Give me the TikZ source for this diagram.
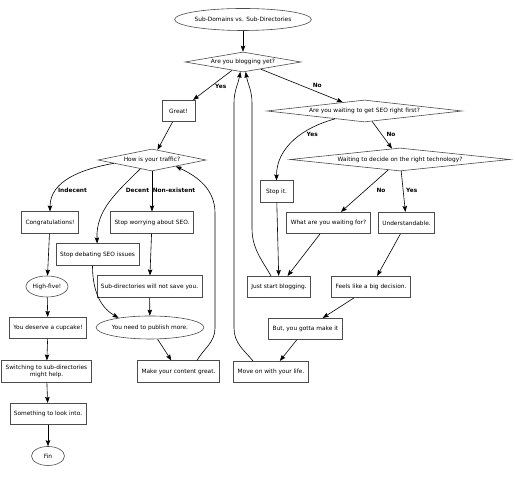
\documentclass[tikz,border=0pt]{standalone}
\usepackage{fontspec}
\setmainfont{DejaVu Sans}
\usetikzlibrary{positioning, arrows.meta, shapes.geometric}
\newcommand{\gvfont}{\fontsize{5.85}{6.3}\selectfont}
\tikzstyle{sbox} = [rectangle, draw=black!70, line width=0.6pt, 
minimum height=21.5pt, minimum width=33pt, inner xsep=4pt, inner ysep=1pt, align=center]
\tikzstyle{query} = [diamond, draw=black!70, line width=0.6pt, aspect=8, inner sep=0pt]
\tikzstyle{oval} = [ellipse, draw=black!70, line width=0.6pt, inner sep=0pt]
\tikzstyle{answer} = [font=\gvfont\bfseries, inner sep=0pt]
\tikzstyle{arrow} = [line width=0.6pt, -{Stealth[length=6pt,width=4.5pt,inset=1pt]}]

\begin{document}
\begin{tikzpicture}[x=1pt, y=1pt]
        \tikzstyle{every node}=[font=\gvfont]
        \useasboundingbox (0,0) rectangle (515,478);
        % top of the chart
        \node (start) [oval, minimum width=120pt, minimum height=22pt] at (243,458.5) {Sub-Domains vs. Sub-Directories};
        \node (blog) [query, minimum width=116pt, minimum height=20pt] at (243,416) {Are you blogging yet?};
        \node (great) [sbox] at (178.5,367) {Great!};
        \node (seo) [query, minimum width=195pt, minimum height=22pt] at (364.5,367) {Are you waiting to get SEO right first?};
        \node (traffic) [query, minimum width=108pt, minimum height=22pt] at (152,318) {How is your traffic?};
        \node (tech) [query, minimum width=220pt, minimum height=23pt] at (400,318.5) {Waiting to decide on the right technology?};
        % left branch
        \node (congrat) [sbox] at (50,255.5) {Congratulations!};
        \node (worry) [sbox] at (152,255.5) {Stop worrying about SEO.};
        \node (debate) [sbox] at (97.5,223.5) {Stop debating SEO issues};
        \node (highfive) [oval, minimum width=42pt, minimum height=21pt] at (47,191.5) {High-five!};
        \node (subdirs) [sbox] at (149.5,191.5) {Sub-directories will not save you.};
        \node (cupcake) [sbox] at (48,150) {You deserve a cupcake!};
        \node (publish) [oval, minimum width=104pt, minimum height=23pt] at (150,150.5) {You need to publish more.};
        \node (switching) [sbox] at (46.5,106.5) {Switching to sub-directories\\might help.};
        \node (make) [sbox] at (178.5,106.5) {Make your content great.};
        \node (lookinto) [sbox] at (48,64) {Something to look into.};
        \node (fin) [oval, minimum width=33pt, minimum height=19pt] at (48,22) {Fin};
        % right branch
        \node (stopit) [sbox] at (276.5,286.5) {Stop it.};
        \node (what) [sbox] at (328.5,255) {What are you waiting for?};
        \node (underst) [sbox] at (406.5,255) {Understandable.};
        \node (juststart) [sbox] at (279,191) {Just start blogging.};
        \node (feels) [sbox] at (371,191) {Feels like a big decision.};
        \node (butmake) [sbox] at (305.5,149) {But, you gotta make it};
        \node (moveon) [sbox] at (271,106) {Move on with your life.};
        % edge labels
        \node (yesblog) [answer] at (220.7,391.3) {Yes};
        \node (noblog) [answer] at (317.3,392.3) {No};
        \node (yesseo) [answer] at (312.3,343.7) {Yes};
        \node (noseo) [answer] at (391,344) {No};
        \node (indecent) [answer] at (72.5,287.5) {Indecent};
        \node (decent) [answer] at (137.5,287.5) {Decent};
        \node (nonexist) [answer] at (174,287.5) {Non-existent};
        \node (notech) [answer] at (381,287.3) {No};
        \node (yestech) [answer] at (411.7,287.3) {Yes};

        \draw [arrow] (start) -- (blog);
        \draw [arrow] (blog) -- (great);
        \draw [arrow] (blog) -- (seo);
        \draw [arrow] (great) -- (traffic);
        \draw [arrow] (seo.195) to[out=195,in=90] (stopit);
        \draw [arrow] (seo) -- (tech);
        \draw [arrow] (traffic.185) to[out=190,in=90] (congrat);
        \draw [arrow] (traffic.217) to[out=225,in=92] (debate);
        \draw [arrow] (traffic) -- (worry);
        \draw [arrow] (congrat) -- (highfive);
        \draw [arrow] (worry) -- (subdirs);
        \draw [arrow] ([xshift=-5pt]debate.south) to[out=-90,in=150] (publish.163);
        \draw [arrow] (subdirs) -- (publish);
        \draw [arrow] (highfive) -- (cupcake);
        \draw [arrow] (cupcake) -- (switching);
        \draw [arrow] (switching) -- (lookinto);
        \draw [arrow] (lookinto) -- (fin);
        \draw [arrow] (publish) -- (make);
        \draw [arrow] ([xshift=18.5pt]make.north) to[out=60,in=-90] (215,150) -- (215,265) to[out=90,in=-25] (traffic.-15);
        \draw [arrow] (tech) -- (what);
        \draw [arrow] (tech) -- (underst);
        \draw [arrow] (stopit) -- (juststart);
        \draw [arrow] (what) -- (juststart);
        \draw [arrow] (underst) -- (feels);
        \draw [arrow] (feels) -- (butmake);
        \draw [arrow] (butmake) -- (moveon);
        % loops back to the top
        \draw [arrow] ([xshift=-8pt]juststart.north) to[out=120,in=-90] (252,250) -- (252,375) to[out=90,in=-80] (blog.-75);
        \draw [arrow] ([xshift=-18pt]moveon.north) to[out=130,in=-90] (234,150) -- (234,375) to[out=90,in=-100] (blog.-105);
\end{tikzpicture}
\end{document}
